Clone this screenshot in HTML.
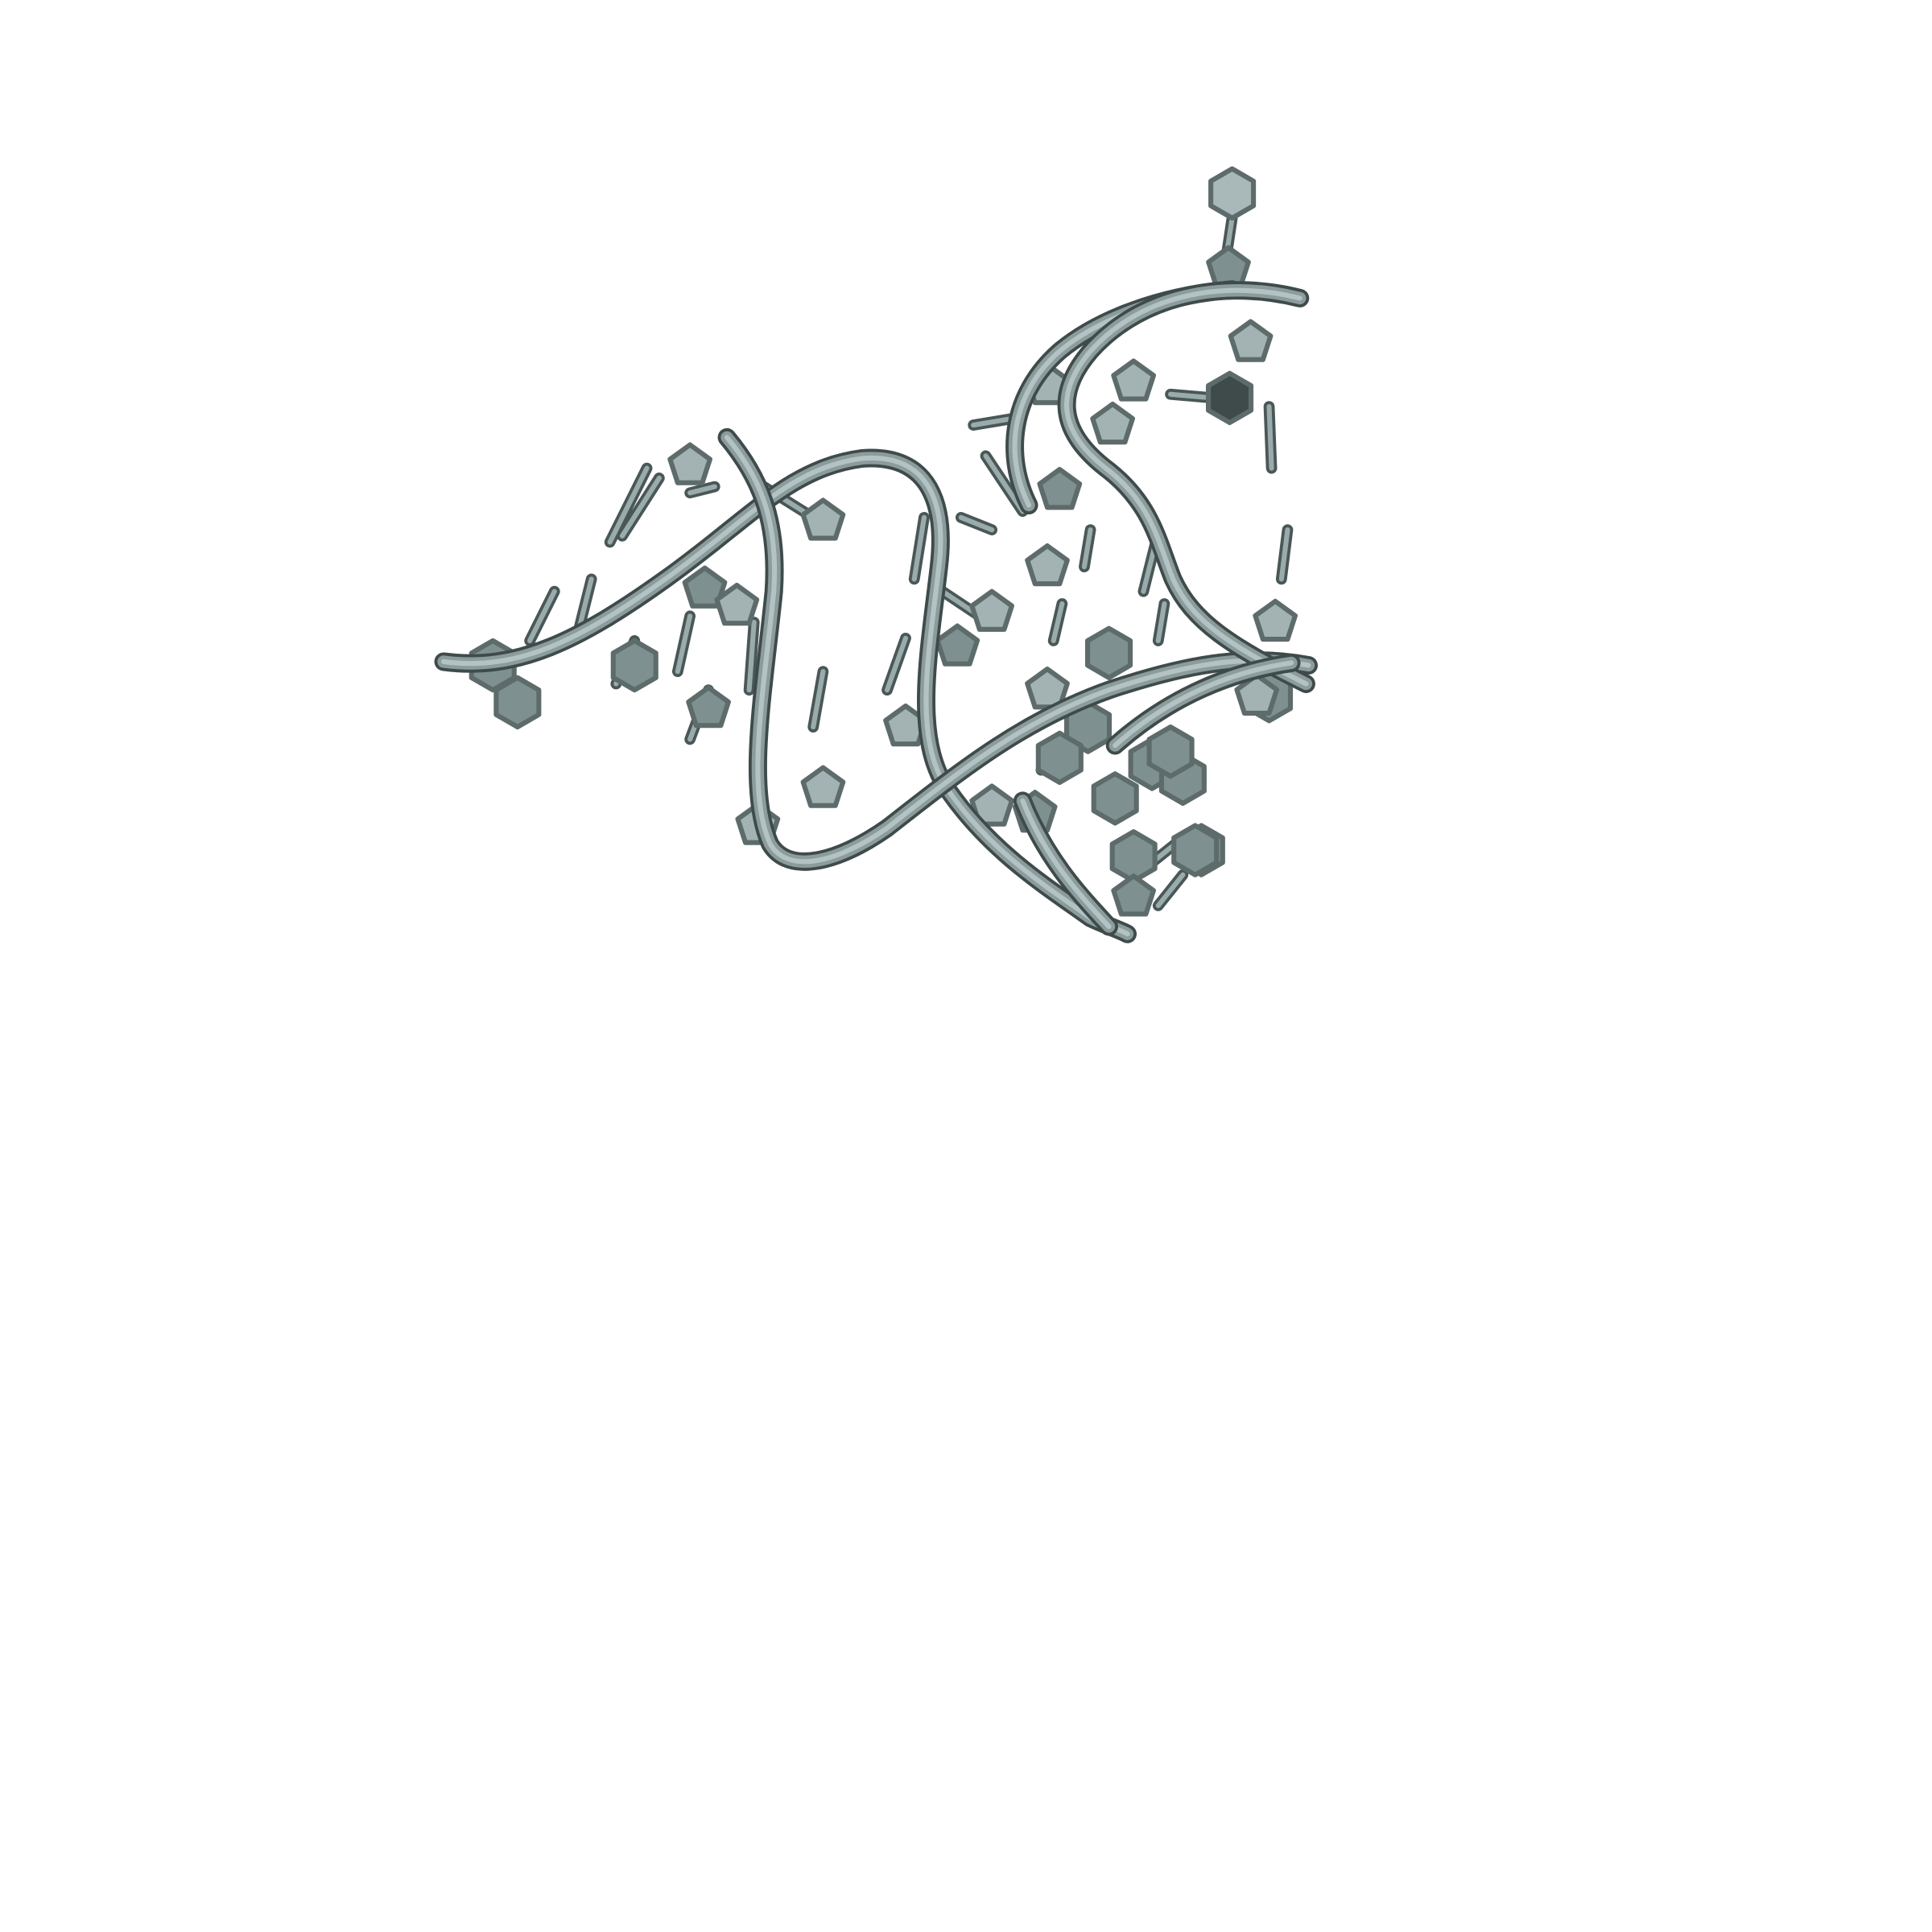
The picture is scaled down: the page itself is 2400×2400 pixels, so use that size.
<!DOCTYPE html>
<html><head><meta charset="utf-8"><style>
html,body{margin:0;padding:0;background:#fff;}
svg{display:block;}
.pe{fill:#a3b3b3;stroke:#5d6b6b;stroke-width:4;stroke-linejoin:round;}
.hx{fill:#7f9090;stroke:#5d6b6b;stroke-width:4;stroke-linejoin:round;}
.sk1{stroke:#4a5757;stroke-width:9;stroke-linecap:round;}
.sk2{stroke:#9aabab;stroke-width:4;stroke-linecap:round;}
.r1{fill:none;stroke:#3f4b4b;stroke-width:15;stroke-linecap:round;}
.r2{fill:none;stroke:#8c9c9c;stroke-width:10;stroke-linecap:round;}
.r3{fill:none;stroke:#b3c2c2;stroke-width:4;stroke-linecap:round;}
</style></head><body>
<svg width="2400" height="2400" viewBox="0 0 1568 1568" xmlns="http://www.w3.org/2000/svg">
<defs>
<polygon id="pent" points="0,-17 16.2,-5.3 10,13.8 -10,13.8 -16.2,-5.3"/>
<polygon id="hex" points="0,-20 17.3,-10 17.3,10 0,20 -17.3,10 -17.3,-10"/>
</defs>
<g>
<path class="sk1" d="M495,440L525,380M505,435L535,388M608,560L612,505M660,590L668,545M720,560L735,518M742,470L750,420M855,520L862,490M880,460L885,430M928,480L938,440M1040,470L1045,430M1032,380L1030,330M800,370L830,415M790,345L820,340M780,420L805,430M765,480L795,500M940,520L945,490M430,520L450,480M470,510L480,470M500,555L515,520M550,545L560,500M560,600L575,560M1000,177L995,210M660,420L620,395M580,395L560,400M985,323L950,320M935,700L960,680M940,735L960,710M845,625L880,600"/>
<path class="sk2" d="M495,440L525,380M505,435L535,388M608,560L612,505M660,590L668,545M720,560L735,518M742,470L750,420M855,520L862,490M880,460L885,430M928,480L938,440M1040,470L1045,430M1032,380L1030,330M800,370L830,415M790,345L820,340M780,420L805,430M765,480L795,500M940,520L945,490M430,520L450,480M470,510L480,470M500,555L515,520M550,545L560,500M560,600L575,560M1000,177L995,210M660,420L620,395M580,395L560,400M985,323L950,320M935,700L960,680M940,735L960,710M845,625L880,600"/>
</g>
<g>
<use href="#hex" class="hx" x="1000" y="157" style="fill:#a9b9b9"/>
<use href="#hex" class="hx" x="998" y="323" style="fill:#3f4b4b"/>
<use href="#hex" class="hx" x="883" y="590"/>
<use href="#hex" class="hx" x="860" y="615"/>
<use href="#hex" class="hx" x="905" y="648"/>
<use href="#hex" class="hx" x="935" y="620"/>
<use href="#hex" class="hx" x="960" y="632"/>
<use href="#hex" class="hx" x="950" y="610"/>
<use href="#hex" class="hx" x="975" y="690"/>
<use href="#hex" class="hx" x="920" y="695"/>
<use href="#hex" class="hx" x="970" y="690"/>
<use href="#hex" class="hx" x="420" y="570"/>
<use href="#hex" class="hx" x="515" y="540"/>
<use href="#hex" class="hx" x="1030" y="565"/>
<use href="#hex" class="hx" x="900" y="530"/>
<use href="#hex" class="hx" x="400" y="540"/>
</g>
<g>
<use href="#pent" class="pe" x="560" y="378"/>
<use href="#pent" class="pe" x="668" y="423"/>
<use href="#pent" class="pe" x="572" y="478" style="fill:#7f9090"/>
<use href="#pent" class="pe" x="598" y="492"/>
<use href="#pent" class="pe" x="805" y="497"/>
<use href="#pent" class="pe" x="777" y="525" style="fill:#7f9090"/>
<use href="#pent" class="pe" x="850" y="560"/>
<use href="#pent" class="pe" x="735" y="590"/>
<use href="#pent" class="pe" x="668" y="640"/>
<use href="#pent" class="pe" x="805" y="655"/>
<use href="#pent" class="pe" x="840" y="660" style="fill:#7f9090"/>
<use href="#pent" class="pe" x="920" y="728" style="fill:#7f9090"/>
<use href="#pent" class="pe" x="1035" y="505"/>
<use href="#pent" class="pe" x="1020" y="565"/>
<use href="#pent" class="pe" x="860" y="398" style="fill:#7f9090"/>
<use href="#pent" class="pe" x="850" y="313"/>
<use href="#pent" class="pe" x="920" y="310"/>
<use href="#pent" class="pe" x="1015" y="278"/>
<use href="#pent" class="pe" x="997" y="218" style="fill:#7f9090"/>
<use href="#pent" class="pe" x="903" y="345"/>
<use href="#pent" class="pe" x="615" y="670"/>
<use href="#pent" class="pe" x="575" y="575" style="fill:#7f9090"/>
<use href="#pent" class="pe" x="850" y="460"/>
</g>
<g>
<g><path class="r1" d="M360,537 C420,545 470,520 540,470 S640,380 700,372 C755,368 768,410 762,460 C754,530 740,600 770,642 C805,692 850,720 885,745 C900,752 910,755 915,758"/><path class="r2" d="M360,537 C420,545 470,520 540,470 S640,380 700,372 C755,368 768,410 762,460 C754,530 740,600 770,642 C805,692 850,720 885,745 C900,752 910,755 915,758"/><path class="r3" d="M360,537 C420,545 470,520 540,470 S640,380 700,372 C755,368 768,410 762,460 C754,530 740,600 770,642 C805,692 850,720 885,745 C900,752 910,755 915,758"/></g>
<g><path class="r1" d="M590,355 C615,385 632,420 628,480 C620,560 605,640 625,685 C640,710 680,700 720,672 C780,625 830,585 900,560 C960,540 1010,530 1062,540"/><path class="r2" d="M590,355 C615,385 632,420 628,480 C620,560 605,640 625,685 C640,710 680,700 720,672 C780,625 830,585 900,560 C960,540 1010,530 1062,540"/><path class="r3" d="M590,355 C615,385 632,420 628,480 C620,560 605,640 625,685 C640,710 680,700 720,672 C780,625 830,585 900,560 C960,540 1010,530 1062,540"/></g>
<g><path class="r1" d="M835,410 C815,370 820,320 860,285 C890,260 940,240 1000,235"/><path class="r2" d="M835,410 C815,370 820,320 860,285 C890,260 940,240 1000,235"/><path class="r3" d="M835,410 C815,370 820,320 860,285 C890,260 940,240 1000,235"/></g>
<g><path class="r1" d="M1055,242 C1000,228 930,235 885,285 C855,320 860,352 900,382 C935,410 940,440 952,470 C968,505 1000,525 1060,555"/><path class="r2" d="M1055,242 C1000,228 930,235 885,285 C855,320 860,352 900,382 C935,410 940,440 952,470 C968,505 1000,525 1060,555"/><path class="r3" d="M1055,242 C1000,228 930,235 885,285 C855,320 860,352 900,382 C935,410 940,440 952,470 C968,505 1000,525 1060,555"/></g>
<g><path class="r1" d="M905,605 C950,565 1000,545 1048,538"/><path class="r2" d="M905,605 C950,565 1000,545 1048,538"/><path class="r3" d="M905,605 C950,565 1000,545 1048,538"/></g>
<g><path class="r1" d="M830,650 C850,700 880,730 900,752"/><path class="r2" d="M830,650 C850,700 880,730 900,752"/><path class="r3" d="M830,650 C850,700 880,730 900,752"/></g>
</g>
</svg>
</body></html>
